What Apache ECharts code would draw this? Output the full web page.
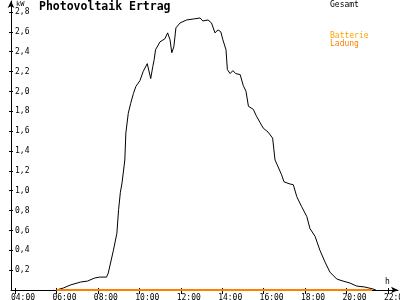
<!DOCTYPE html>
<html>
<head>
<meta charset="utf-8">
<script src="https://cdn.jsdelivr.net/npm/echarts@6/dist/echarts.min.js"></script>
<style>html,body{margin:0;padding:0;background:#fff}#c{width:400px;height:300px}</style>
</head>
<body>
<div id="c"></div>
<script>
var times = ["06:00","06:20","06:40","07:10","07:30","07:50","08:05","08:25","08:30","08:45","08:55","09:00","09:05","09:10","09:18","09:21","09:28","09:35","09:43","09:50","10:02","10:11","10:23","10:33","10:39","10:43","10:47","11:00","11:14","11:22","11:29","11:34","11:40","11:46","11:58","12:17","12:37","12:56","13:04","13:19","13:29","13:39","13:48","13:56","14:02","14:11","14:15","14:23","14:31","14:39","14:52","15:01","15:09","15:16","15:30","15:38","15:49","15:59","16:13","16:26","16:33","16:42","16:52","16:59","17:14","17:26","17:36","17:50","18:05","18:14","18:29","18:43","18:58","19:12","19:32","19:50","20:10","20:29","20:53","21:17","21:25"];
var gesamt = [0,0.02,0.05,0.08,0.09,0.12,0.13,0.13,0.17,0.40,0.57,0.81,0.98,1.08,1.31,1.58,1.78,1.88,1.98,2.05,2.11,2.20,2.28,2.13,2.25,2.32,2.42,2.50,2.53,2.59,2.52,2.39,2.45,2.64,2.69,2.72,2.73,2.74,2.71,2.72,2.69,2.59,2.62,2.60,2.52,2.42,2.22,2.18,2.21,2.18,2.17,2.06,2.00,1.85,1.82,1.76,1.69,1.63,1.59,1.53,1.31,1.24,1.16,1.09,1.07,1.06,0.94,0.84,0.74,0.62,0.54,0.40,0.28,0.18,0.11,0.09,0.07,0.04,0.03,0.01,0];
var ladungTimes = ["06:00","21:14"];
var ladung = [0,0];
var batterie = [];
var xTicks = [4,6,8,10,12,14,16,18,20,22];
var yTicks = [0.2,0.4,0.6,0.8,1.0,1.2,1.4,1.6,1.8,2.0,2.2,2.4,2.6,2.8];

function toH(s){var p=s.split(':');return +p[0]+ +p[1]/60;}
function pairs(ts,vs){return ts.map(function(t,i){return [toH(t),vs[i]];});}
function fmtX(v){var h=Math.round(v);return (h<10?'0':'')+h+':00';}
function fmtY(v){return v.toFixed(1).replace('.',',');}

var FONT = 'DejaVu Sans Mono';
var XMIN = 3.807, XMAX = 22.485, SHIFT = 0.386, YMAX = 2.911;

var chart = echarts.init(document.getElementById('c'), null, {renderer:'canvas'});
chart.setOption({
  animation:false,
  backgroundColor:'#fff',
  grid:{left:11,right:2,top:1,bottom:10,containLabel:false,outerBoundsMode:'none'},
  xAxis:[
    {type:'value',min:XMIN,max:XMAX,
     axisLine:{show:true,lineStyle:{color:'#000',width:1},symbol:['none','arrow'],symbolSize:[5,7]},
     axisTick:{show:true,length:4,customValues:xTicks,lineStyle:{color:'#000'}},
     axisLabel:{show:false},splitLine:{show:false}},
    {type:'value',min:XMIN,max:XMAX,position:'bottom',
     axisLine:{show:false},
     axisTick:{show:true,inside:true,length:2,customValues:xTicks,lineStyle:{color:'#000'}},
     axisLabel:{show:false},splitLine:{show:false}},
    {type:'value',min:XMIN-SHIFT,max:XMAX-SHIFT,position:'bottom',
     axisLine:{show:false},axisTick:{show:false},splitLine:{show:false},
     axisLabel:{show:true,customValues:xTicks,formatter:fmtX,margin:4,color:'#000',fontFamily:FONT,fontSize:8,hideOverlap:false}}
  ],
  yAxis:[
    {type:'value',min:0,max:YMAX,
     axisLine:{show:true,lineStyle:{color:'#000',width:1},symbol:['none','arrow'],symbolSize:[5,7]},
     axisTick:{show:true,length:2,customValues:yTicks,lineStyle:{color:'#000'}},
     axisLabel:{show:true,inside:true,customValues:yTicks,formatter:fmtY,margin:4,color:'#000',fontFamily:FONT,fontSize:8},
     splitLine:{show:false}},
    {type:'value',min:0,max:YMAX,position:'left',
     axisLine:{show:false},
     axisTick:{show:true,inside:true,length:2,customValues:yTicks,lineStyle:{color:'#000'}},
     axisLabel:{show:false},splitLine:{show:false}}
  ],
  title:{text:'Photovoltaik Ertrag',left:39,top:1,padding:0,
    textStyle:{fontFamily:FONT,fontSize:11.5,fontWeight:'bold',color:'#000'}},
  graphic:[
    {type:'text',left:16,top:1,style:{text:'kW',font:'7px '+FONT,fill:'#000'}},
    {type:'text',left:385,top:278,style:{text:'h',font:'8px '+FONT,fill:'#000'}},
    {type:'text',left:330,top:1,style:{text:'Gesamt',font:'8px '+FONT,fill:'#000'}},
    {type:'text',left:330,top:32,style:{text:'Batterie',font:'8px '+FONT,fill:'#ffa500'}},
    {type:'text',left:330,top:40,style:{text:'Ladung',font:'8px '+FONT,fill:'#ff8000'}}
  ],
  series:[
    {name:'Gesamt',type:'line',xAxisIndex:0,yAxisIndex:0,data:pairs(times,gesamt),showSymbol:false,clip:false,
     lineStyle:{color:'#000',width:1},itemStyle:{color:'#000'},z:3},
    {name:'Batterie',type:'line',xAxisIndex:0,yAxisIndex:0,data:batterie,showSymbol:false,
     lineStyle:{color:'#ffa500',width:2}},
    {name:'Ladung',type:'line',xAxisIndex:0,yAxisIndex:0,data:pairs(ladungTimes,ladung),showSymbol:false,clip:false,
     lineStyle:{color:'#ff8000',width:2},itemStyle:{color:'#ff8000'},z:4}
  ]
});
</script>
</body>
</html>
